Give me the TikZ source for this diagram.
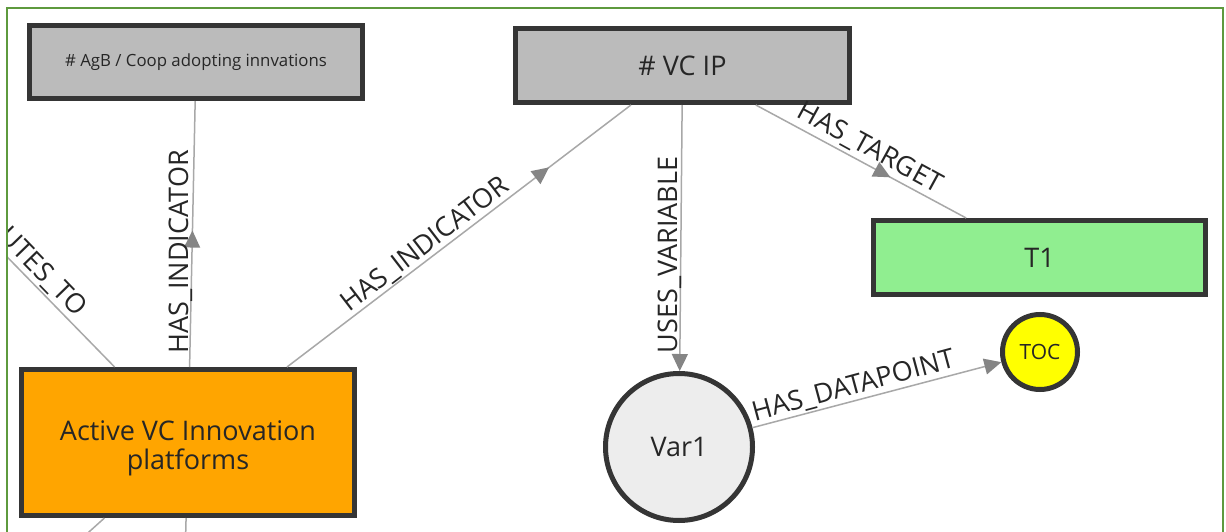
\documentclass[tikz,border=0pt]{standalone}
\usepackage{fontspec}
\setmainfont{Open Sans}
\usetikzlibrary{arrows.meta,decorations.markings}

\definecolor{nodeedge}{HTML}{353535}
\definecolor{boxgray}{HTML}{BBBBBB}
\definecolor{boxgreen}{HTML}{90EE90}
\definecolor{boxorange}{HTML}{FFA500}
\definecolor{circgray}{HTML}{EDEDED}
\definecolor{tocyellow}{HTML}{FFFF00}
\definecolor{linkgray}{HTML}{A8A8A8}
\definecolor{tipgray}{HTML}{858585}
\definecolor{framegreen}{HTML}{5E9A3E}
\definecolor{txt}{HTML}{262626}

\tikzset{
  bigfont/.style={font=\fontsize{27}{27}\selectfont},
  box/.style={draw=nodeedge, line width=5pt, rectangle, inner sep=0pt,
    text=txt, bigfont, align=center},
  var/.style={draw=nodeedge, line width=5pt, circle, inner sep=0pt,
    text=txt, bigfont},
  link/.style={draw=linkgray, line width=1.5pt},
  endtip/.style={-{Triangle[length=17pt,width=16pt,color=tipgray]}},
  midtip/.style={postaction={decorate}, decoration={markings,
    mark=at position #1 with {\arrow{Triangle[length=17pt,width=16pt,color=tipgray]}}}},
  elabel/.style={text=txt, bigfont, inner sep=0pt},
}

\begin{document}
\begin{tikzpicture}[x=1pt, y=-1pt]
  \useasboundingbox[fill=white] (0,0) rectangle (1226,532);

  \begin{scope}
    \clip (8,9) rectangle (1222,540);

    % nodes
    \node[box, fill=boxgray, minimum width=333pt, minimum height=73pt,
      font=\fontsize{16.8}{18}\selectfont] (agb) at (196,62)
      {\# AgB / Coop adopting innvations};
    \node[box, fill=boxgray, minimum width=334pt, minimum height=74pt] (vcip)
      at (682.5,65.5) {\# VC IP};
    \node[box, fill=boxgreen, minimum width=332pt, minimum height=74pt] (t1)
      at (1039.5,257.5) {T1};
    \node[box, fill=boxorange, minimum width=333pt, minimum height=146pt] (act)
      at (188,442.5)
      {\raisebox{-13pt}[0pt][0pt]{\begin{tabular}{@{}c@{}}Active VC Innovation\\platforms\end{tabular}}};
    \node[var, fill=circgray, minimum size=147pt] (var1) at (679,447) {Var1};
    \node[var, fill=tocyellow, minimum size=75pt,
      font=\fontsize{21}{21}\selectfont] (toc) at (1040,352) {TOC};

    % links leaving the visible area
    \coordinate (cin) at (-42,206.6);
    \coordinate (out1) at (30,585);
    \coordinate (out2) at (184,600);

    % links
    \draw[link] (cin) -- (act);
    \draw[link] (act) -- (out1);
    \draw[link] (act) -- (out2);
    \draw[link, midtip=0.513] (act) -- (agb);
    \draw[link, midtip=0.762] (act) -- (vcip);
    \draw[link, endtip] (vcip) -- (var1);
    \draw[link, midtip=0.64] (vcip) -- (t1);
    \draw[link, endtip] (var1) -- (toc);

    % link labels
    \node[elabel, rotate=-45.8, anchor=base east] (lcontrib) at (76,318) {UTES\_TO};
    \node[elabel, rotate=90, anchor=base] (lind1) at (188,252) {HAS\_INDICATOR};
    \node[elabel, rotate=37.5, anchor=base] (lind2) at (430,251) {HAS\_INDICATOR};
    \node[elabel, rotate=90, anchor=base] (luses) at (677,255) {USES\_VARIABLE};
    \node[elabel, rotate=-28.7, anchor=base] (ltarget) at (866,155) {HAS\_TARGET};
    \node[elabel, rotate=15.1, anchor=base] (ldata) at (855.5,394) {HAS\_DATAPOINT};
  \end{scope}

  % panel frame
  \draw[framegreen, line width=1.5pt] (7,540) -- (7,8) -- (1223,8) -- (1223,540);
\end{tikzpicture}
\end{document}
